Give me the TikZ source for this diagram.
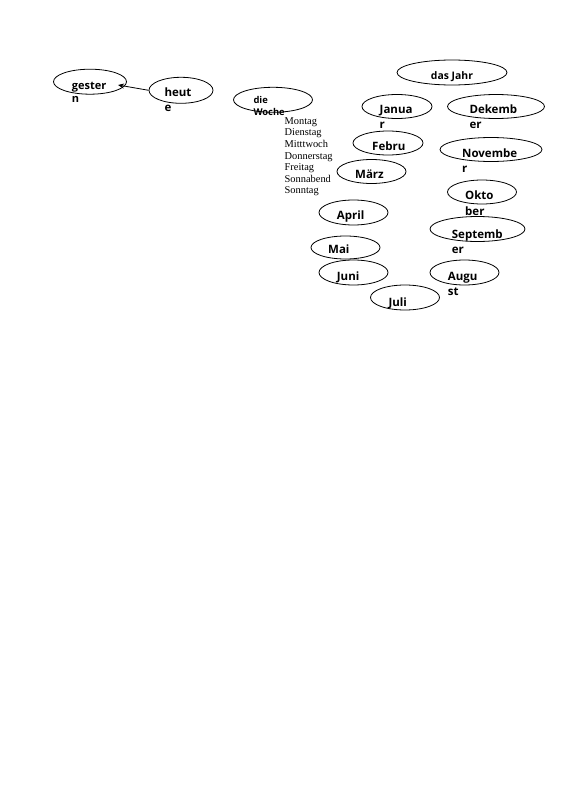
\documentclass[tikz,border=0pt]{standalone}
\usepackage{fontspec}
\setmainfont{Open Sans}
\newfontfamily\serifweek{Liberation Serif}
\usetikzlibrary{shapes.geometric,arrows.meta}
\newcommand{\twolines}[3]{\vtop{\baselineskip=#1\hbox{#2}\hbox{#3}}}
\begin{document}
\begin{tikzpicture}[x=1pt,y=-1pt,
  ell/.style={draw=black,ellipse,line width=0.8pt,inner sep=0pt},
  lab/.style={anchor=base west,inner sep=0pt,yshift=-2pt,font=\fontsize{11.5}{15}\selectfont\bfseries},
  small/.style={anchor=base west,inner sep=0pt,yshift=-1.5pt,font=\fontsize{9.4}{12}\selectfont\bfseries}]
\useasboundingbox[fill=white] (0,0) rectangle (565,800);
% left pair
\node[ell,minimum width=73pt,minimum height=25pt] (gester) at (90,81.7) {};
\node[lab,yshift=1pt,font=\fontsize{11}{13}\selectfont\bfseries] (tgester) at (71.7,88.3) {\twolines{12.8pt}{gester}{n}};
\node[ell,minimum width=64pt,minimum height=26pt] (heut) at (181,90.3) {};
\node[lab] (theut) at (164.3,94.3) {\twolines{15pt}{heut}{e}};
\coordinate (gtip) at (118,85);
\draw[line width=0.8pt,-{Stealth[length=6pt,width=5pt]}] (heut.west) -- (gtip);
% week
\node[ell,minimum width=79pt,minimum height=25pt] (woche) at (273,99.8) {};
\node[small] (twoche) at (253.3,101.7) {\twolines{12.5pt}{die}{Woche}};
\node[anchor=base west,inner sep=0pt,font=\serifweek\fontsize{10.4}{11.6}\selectfont] (days) at (284.5,124.3)
  {\vtop{\baselineskip=11.6pt\hbox{Montag}\hbox{Dienstag}\hbox{Mitttwoch}\hbox{Donnerstag}\hbox{Freitag}\hbox{Sonnabend}\hbox{Sonntag}}};
% year
\node[ell,minimum width=110pt,minimum height=25pt] (jahr) at (452,72.5) {};
\node[anchor=base,inner sep=0pt,yshift=-1.5pt,font=\fontsize{10.4}{12}\selectfont\bfseries] (tjahr) at (452,77.7) {das Jahr};
\node[ell,minimum width=70pt,minimum height=24pt] (jan) at (397,106.5) {};
\node[lab] (tjan) at (379.5,111.8) {\twolines{14.5pt}{Janua}{r}};
\node[ell,minimum width=97pt,minimum height=24pt] (dez) at (496,106.5) {};
\node[lab] (tdez) at (469.3,111.8) {\twolines{14.5pt}{Dekemb}{er}};
\node[ell,minimum width=70pt,minimum height=24pt] (feb) at (388,143) {};
\node[lab] (tfeb) at (372,148.5) {Febru};
\node[ell,minimum width=102pt,minimum height=24pt] (nov) at (491,149.5) {};
\node[lab] (tnov) at (462,155.5) {\twolines{14.5pt}{Novembe}{r}};
\node[ell,minimum width=69pt,minimum height=24pt] (mar) at (371.5,171.5) {};
\node[lab] (tmar) at (355,176.5) {März};
\node[ell,minimum width=69pt,minimum height=24pt] (okt) at (482,192) {};
\node[lab] (tokt) at (465,197.7) {\twolines{15.3pt}{Okto}{ber}};
\node[ell,minimum width=69pt,minimum height=25pt] (apr) at (353.5,212.5) {};
\node[lab] (tapr) at (336.7,217.7) {April};
\node[ell,minimum width=95pt,minimum height=25pt] (sep) at (477.5,229) {};
\node[lab] (tsep) at (451.7,236) {\twolines{15pt}{Septemb}{er}};
\node[ell,minimum width=69pt,minimum height=23pt] (mai) at (345.5,247.5) {};
\node[lab] (tmai) at (328,251.7) {Mai};
\node[ell,minimum width=69pt,minimum height=25pt] (jun) at (353.5,272.5) {};
\node[lab] (tjun) at (336.7,278.3) {Juni};
\node[ell,minimum width=69pt,minimum height=25pt] (aug) at (464.5,272.5) {};
\node[lab] (taug) at (447.7,278.3) {\twolines{15.5pt}{Augu}{st}};
\node[ell,minimum width=69pt,minimum height=25pt] (jul) at (405,297.5) {};
\node[lab] (tjul) at (388.3,304.3) {Juli};
\end{tikzpicture}
\end{document}
